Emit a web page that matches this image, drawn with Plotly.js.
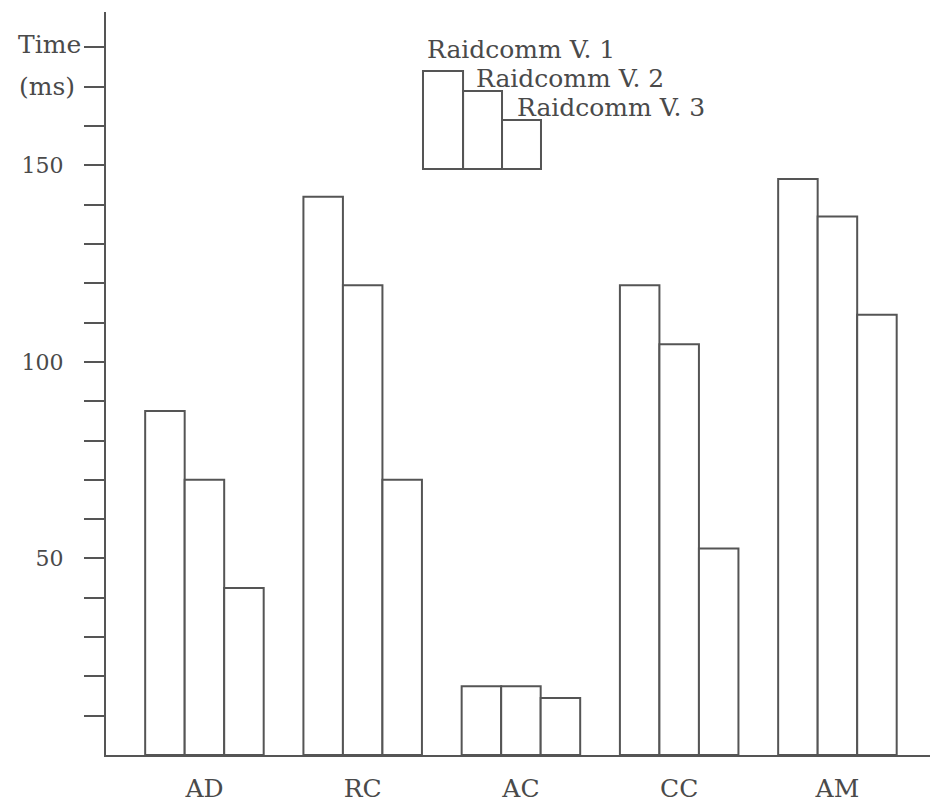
<!DOCTYPE html>
<html>
<head>
<meta charset="utf-8">
<script src="https://cdn.plot.ly/plotly-3.0.1.min.js"></script>
<style>html,body{margin:0;padding:0;background:#fff;}#chart{width:930px;height:805px;}</style>
</head>
<body>
<div id="chart"></div>
<script>
const categories = ['AD', 'RC', 'AC', 'CC', 'AM'];
const seriesNames = ['Raidcomm V. 1', 'Raidcomm V. 2', 'Raidcomm V. 3'];
const v1 = [87.5, 142, 17.5, 119.5, 146.5];
const v2 = [70, 119.5, 17.5, 104.5, 137];
const v3 = [42.5, 70, 14.5, 52.5, 112];
const yTickVals = [10, 20, 30, 40, 50, 60, 70, 80, 90, 100, 110, 120, 130, 140, 150, 160, 170, 180];
const yTickText = ['', '', '', '', '50', '', '', '', '', '100', '', '', '', '', '150', '', '', ''];

const INK = '#555';
const TXT = '#4a4a4a';
const FONT = 'DejaVu Serif, Liberation Serif, serif';

const barStyle = {type: 'bar', marker: {color: '#fff', line: {color: INK, width: 2}}, hoverinfo: 'skip', showlegend: false};
const data = [v1, v2, v3].map((v, i) => Object.assign({}, barStyle, {x: categories, y: v, name: seriesNames[i]}));

// legend drawn as outlined boxes + labels (paper coords)
const legBoxes = [
  [0.3847, 0.4333, 0.9206],
  [0.4333, 0.4806, 0.8937],
  [0.4806, 0.5279, 0.8546]
];
const shapes = legBoxes.map(b => ({type: 'rect', xref: 'paper', yref: 'paper', x0: b[0], x1: b[1], y0: 0.7887, y1: b[2], line: {color: INK, width: 2}, fillcolor: 'rgba(0,0,0,0)'}));
const legText = [[0.387, 0.950], [0.4466, 0.911], [0.4964, 0.872]];
const annotations = legText.map((p, i) => ({xref: 'paper', yref: 'paper', x: p[0], y: p[1], xanchor: 'left', yanchor: 'middle', text: seriesNames[i], showarrow: false, font: {family: FONT, size: 25, color: TXT}}));
annotations.push({xref: 'paper', yref: 'paper', x: -0.0279, y: 0.9556, xanchor: 'right', yanchor: 'middle', text: 'Time', showarrow: false, font: {family: FONT, size: 25, color: TXT}});
annotations.push({xref: 'paper', yref: 'paper', x: -0.0352, y: 0.9004, xanchor: 'right', yanchor: 'middle', text: '(ms)', showarrow: false, font: {family: FONT, size: 25, color: TXT}});

const layout = {
  width: 930, height: 805,
  margin: {l: 106, r: 0, t: 12, b: 50},
  paper_bgcolor: '#fff', plot_bgcolor: '#fff',
  barmode: 'group', bargap: 0.251, bargroupgap: 0,
  font: {family: FONT, size: 25, color: TXT},
  xaxis: {type: 'category', range: [-0.622, 4.585], showline: true, linecolor: INK, linewidth: 2, ticks: '', showgrid: false, zeroline: false, ticklabelstandoff: 10, tickfont: {family: FONT, size: 25, color: TXT}},
  yaxis: {range: [0, 189], showline: true, linecolor: INK, linewidth: 2, ticks: 'outside', ticklen: 20, tickwidth: 2, tickcolor: INK, tickvals: yTickVals, ticktext: yTickText, showgrid: false, zeroline: false, ticklabelstandoff: 16, tickfont: {family: FONT, size: 22, color: TXT}},
  shapes: shapes,
  annotations: annotations
};
Plotly.newPlot('chart', data, layout, {displayModeBar: false, staticPlot: true});
</script>
</body>
</html>
